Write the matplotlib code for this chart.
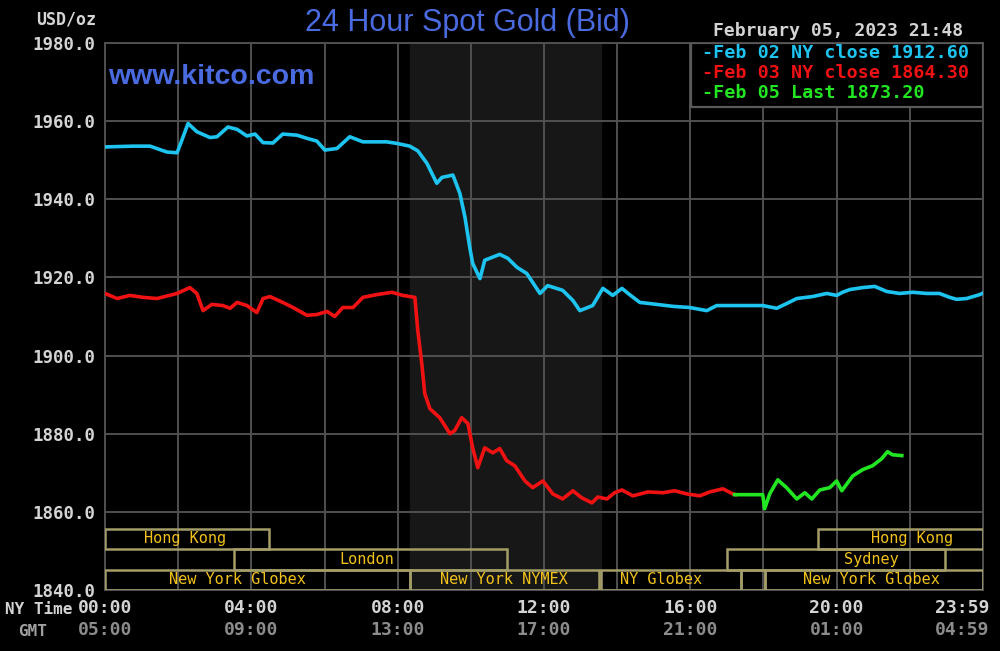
# ================================
# 24 Hour Spot Gold (Bid) - kitco style chart
# ================================
import matplotlib
matplotlib.use("Agg")
import matplotlib.pyplot as plt
from matplotlib.patches import Rectangle

# ================================
# Data (NY time in hours, price in USD/oz)
# ================================
feb02_hours = [0.00, 0.77, 1.23, 1.69, 1.97, 2.10, 2.27, 2.51, 2.87, 3.06, 3.36, 3.61, 3.88,
               4.10, 4.32, 4.59, 4.86, 5.25, 5.52, 5.79, 6.01, 6.34, 6.69, 7.05, 7.43, 7.70,
               7.98, 8.33, 8.55, 8.80, 9.07, 9.21, 9.51, 9.70, 9.84, 9.97, 10.05, 10.25, 10.38,
               10.79, 11.01, 11.26, 11.53, 11.89, 12.10, 12.51, 12.79, 12.98, 13.33, 13.61,
               13.88, 14.13, 14.34, 14.62, 15.08, 15.52, 15.98, 16.45, 16.72, 17.98, 18.36,
               18.63, 18.91, 19.34, 19.73, 20.00, 20.16, 20.36, 20.71, 21.04, 21.37, 21.72,
               22.08, 22.46, 22.81, 23.09, 23.28, 23.55, 23.91, 24.00]
feb02_price = [1953.4, 1953.6, 1953.6, 1952.1, 1951.9, 1955.1, 1959.4, 1957.3, 1955.8, 1956.0,
               1958.5, 1957.9, 1956.2, 1956.7, 1954.5, 1954.4, 1956.7, 1956.4, 1955.6, 1954.9,
               1952.6, 1953.0, 1956.0, 1954.7, 1954.7, 1954.7, 1954.3, 1953.6, 1952.4, 1949.2,
               1944.1, 1945.6, 1946.2, 1941.5, 1935.4, 1927.7, 1923.6, 1919.7, 1924.4, 1925.9,
               1924.9, 1922.6, 1921.0, 1915.9, 1917.9, 1916.7, 1914.1, 1911.5, 1912.8, 1917.2,
               1915.4, 1917.2, 1915.6, 1913.6, 1913.1, 1912.6, 1912.3, 1911.5, 1912.8, 1912.8,
               1912.1, 1913.3, 1914.6, 1915.1, 1915.9, 1915.4, 1916.2, 1916.9, 1917.4, 1917.7,
               1916.4, 1915.9, 1916.2, 1915.9, 1915.9, 1914.9, 1914.4, 1914.6, 1915.6, 1916.0]

feb03_hours = [0.00, 0.33, 0.68, 1.04, 1.42, 1.97, 2.32, 2.51, 2.68, 2.92, 3.22, 3.42, 3.61,
               3.88, 4.15, 4.32, 4.51, 4.86, 5.14, 5.52, 5.79, 6.07, 6.28, 6.50, 6.78, 7.05,
               7.43, 7.84, 8.14, 8.47, 8.55, 8.66, 8.74, 8.88, 9.15, 9.43, 9.56, 9.75, 9.92,
               10.05, 10.19, 10.38, 10.60, 10.79, 10.98, 11.20, 11.48, 11.69, 11.97, 12.24,
               12.51, 12.79, 13.03, 13.31, 13.47, 13.72, 13.93, 14.13, 14.43, 14.84, 15.25,
               15.57, 15.90, 16.26, 16.53, 16.89, 17.16, 17.24]
feb03_price = [1915.9, 1914.6, 1915.4, 1914.9, 1914.6, 1915.9, 1917.4, 1915.9, 1911.5, 1913.1,
               1912.8, 1912.1, 1913.6, 1912.8, 1911.0, 1914.6, 1915.1, 1913.6, 1912.3, 1910.3,
               1910.5, 1911.3, 1910.0, 1912.3, 1912.3, 1914.9, 1915.6, 1916.2, 1915.4, 1914.9,
               1906.4, 1897.9, 1890.3, 1886.4, 1884.1, 1880.0, 1880.8, 1884.1, 1882.6, 1876.4,
               1871.3, 1876.4, 1875.1, 1876.2, 1873.1, 1871.8, 1867.9, 1866.2, 1867.9, 1864.6,
               1863.3, 1865.4, 1863.6, 1862.3, 1863.8, 1863.3, 1864.9, 1865.6, 1864.1, 1865.1,
               1864.9, 1865.4, 1864.6, 1864.1, 1865.1, 1865.9, 1864.6, 1864.4]

feb05_hours = [17.21, 17.98, 18.03, 18.17, 18.39, 18.63, 18.91, 19.13, 19.32, 19.54, 19.81,
               20.00, 20.14, 20.44, 20.71, 20.98, 21.23, 21.39, 21.53, 21.78]
feb05_price = [1864.4, 1864.4, 1860.8, 1864.6, 1868.2, 1866.2, 1863.3, 1864.9, 1863.3, 1865.6,
               1866.2, 1867.9, 1865.4, 1869.2, 1870.8, 1871.8, 1873.6, 1875.4, 1874.6, 1874.4]

legend_labels = ["-Feb 02 NY close 1912.60", "-Feb 03 NY close 1864.30", "-Feb 05 Last 1873.20"]

ny_labels = ["00:00", "04:00", "08:00", "12:00", "16:00", "20:00", "23:59"]
gmt_labels = ["05:00", "09:00", "13:00", "17:00", "21:00", "01:00", "04:59"]
label_hours = [0, 4, 8, 12, 16, 20, 23.42]

y_ticks = [1840, 1860, 1880, 1900, 1920, 1940, 1960, 1980]

# trading sessions: name, start, end, row (0 = bottom), label position
session_names = ["Hong Kong", "Hong Kong", "London", "Sydney",
                 "New York Globex", "New York NYMEX", "NY Globex", "", "New York Globex"]
session_start = [0.0, 19.5, 3.52, 17.0, 0.0, 8.33, 13.57, 17.38, 18.05]
session_end = [4.48, 24.0, 11.0, 22.95, 8.33, 13.5, 17.38, 18.05, 24.0]
session_row = [2, 2, 1, 1, 0, 0, 0, 0, 0]
session_label_at = [2.2, 22.05, 7.16, 20.96, 3.63, 10.9, 15.19, 17.7, 20.96]

pit_start, pit_end = 8.33, 13.55

# ================================
# Colours / fonts
# ================================
BLUE = "#1ec4f0"
RED = "#f01212"
GREEN = "#22e622"
GRID = "#505050"
MONO = "DejaVu Sans Mono"

fig = plt.figure(figsize=(10, 6.51), dpi=100, facecolor="black")
ax = fig.add_axes([0.105, 1 - 590 / 651, 0.878, 547 / 651], facecolor="black")

# ================================
# Background, grid
# ================================
ax.axvspan(pit_start, pit_end, color="#171717", zorder=0)
ax.set_xlim(0, 24)
ax.set_ylim(1840, 1980)
ax.set_xticks(range(0, 25, 2))
ax.set_yticks(y_ticks)
ax.set_xticklabels([])
ax.set_yticklabels([f"{v:.1f}" for v in y_ticks], fontfamily=MONO,
                   fontweight="bold", fontsize=12.5, color="#d4d4d4")
ax.tick_params(length=0, pad=7)
ax.grid(True, color=GRID, lw=1.4, zorder=1)
for s in ax.spines.values():
    s.set_color(GRID)
    s.set_linewidth(1.4)

# ================================
# Price lines
# ================================
ax.plot(feb02_hours, feb02_price, color=BLUE, lw=2.6, zorder=4)
ax.plot(feb03_hours, feb03_price, color=RED, lw=2.6, zorder=4)
ax.plot(feb05_hours, feb05_price, color=GREEN, lw=2.6, zorder=5)

# ================================
# Session boxes
# ================================
trans = ax.get_xaxis_transform()
row_h = 20.5 / 547
for name, x0, x1, row, lx in zip(session_names, session_start, session_end,
                                 session_row, session_label_at):
    ax.add_patch(Rectangle((x0, row * row_h), x1 - x0, row_h, transform=trans,
                           fill=False, edgecolor="#a39d68", lw=1.8, zorder=3))
    ax.text(lx, row * row_h + row_h / 2, name, transform=trans, ha="center",
            va="center", fontfamily=MONO, fontsize=11, color="#f2c21a", zorder=6)

# ================================
# Legend box
# ================================
ax.add_patch(Rectangle((691 / 1000, 1 - 107 / 651), 292 / 1000, 64 / 651,
                       transform=fig.transFigure, facecolor="black",
                       edgecolor="#5a5a5a", lw=1.6, zorder=7))
for i, (lab, col) in enumerate(zip(legend_labels, [BLUE, RED, GREEN])):
    fig.text(702 / 1000, 1 - (53 + 20 * i) / 651, lab, ha="left", va="center",
             fontfamily=MONO, fontweight="bold", fontsize=13.2, color=col, zorder=8)

# ================================
# Titles and labels
# ================================
fig.text(0.467, 1 - 23 / 651, "24 Hour Spot Gold (Bid)", ha="center", va="center",
         fontfamily="Liberation Sans", fontsize=22, color="#4a6be0")
fig.text(0.108, 1 - 77 / 651, "www.kitco.com", ha="left", va="center",
         fontfamily="Liberation Sans", fontweight="bold", fontsize=20.5, color="#4a6be0")
fig.text(0.838, 1 - 31 / 651, "February 05, 2023 21:48", ha="center", va="center",
         fontfamily=MONO, fontweight="bold", fontsize=13, color="#d4d4d4")
fig.text(0.066, 1 - 20 / 651, "USD/oz", ha="center", va="center",
         fontfamily=MONO, fontweight="bold", fontsize=12, color="#d4d4d4")
fig.text(0.005, 1 - 610 / 651, "NY Time", ha="left", va="center",
         fontfamily=MONO, fontweight="bold", fontsize=11.5, color="#d4d4d4")
fig.text(0.018, 1 - 631 / 651, "GMT", ha="left", va="center",
         fontfamily=MONO, fontweight="bold", fontsize=11.5, color="#a0a0a0")

for h, ny, gmt in zip(label_hours, ny_labels, gmt_labels):
    ax.text(h, -18 / 547, ny, transform=trans, ha="center", va="center",
            fontfamily=MONO, fontweight="bold", fontsize=13, color="#d4d4d4")
    ax.text(h, -40 / 547, gmt, transform=trans, ha="center", va="center",
            fontfamily=MONO, fontweight="bold", fontsize=13, color="#8c8c8c")

fig.savefig("out.png", dpi=100, facecolor="black")
